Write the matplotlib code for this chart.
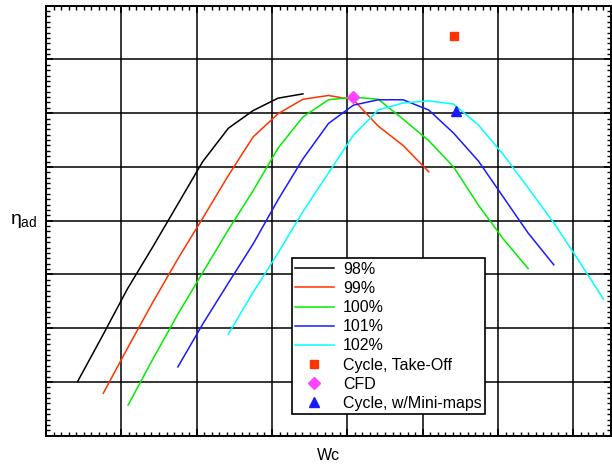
import matplotlib
matplotlib.use("Agg")
import matplotlib.pyplot as plt
from matplotlib.ticker import MultipleLocator

plt.rcParams["font.family"] = ["Liberation Sans", "DejaVu Sans"]
plt.rcParams["mathtext.fontset"] = "custom"
plt.rcParams["mathtext.rm"] = "Liberation Sans"
plt.rcParams["mathtext.it"] = "Liberation Sans"

# speed lines (corrected flow vs adiabatic efficiency), arbitrary units
x_98 = [0.42, 0.75, 1.08, 1.42, 1.75, 2.08, 2.42, 2.75, 3.08, 3.41]
y_98 = [1.01, 1.86, 2.73, 3.52, 4.31, 5.10, 5.72, 6.05, 6.28, 6.36]

x_99 = [0.76, 1.09, 1.42, 1.75, 2.09, 2.42, 2.75, 3.08, 3.41, 3.75,
        4.08, 4.41, 4.74, 5.08]
y_99 = [0.79, 1.65, 2.49, 3.29, 4.07, 4.84, 5.56, 5.99, 6.26, 6.33,
        6.25, 5.76, 5.40, 4.91]

x_100 = [1.09, 1.42, 1.75, 2.09, 2.42, 2.75, 3.08, 3.41, 3.75, 4.08,
         4.41, 4.74, 5.08, 5.41, 5.74, 6.07, 6.40]
y_100 = [0.57, 1.43, 2.26, 3.06, 3.83, 4.56, 5.35, 5.93, 6.25, 6.30,
         6.26, 5.89, 5.49, 5.00, 4.29, 3.66, 3.11]

x_101 = [1.75, 2.09, 2.42, 2.75, 3.08, 3.41, 3.75, 4.08, 4.41, 4.74,
         5.08, 5.41, 5.74, 6.07, 6.40, 6.74]
y_101 = [1.28, 2.10, 2.84, 3.57, 4.39, 5.15, 5.81, 6.15, 6.25, 6.25,
         6.06, 5.63, 5.11, 4.44, 3.77, 3.18]

x_102 = [2.42, 2.75, 3.08, 3.41, 3.75, 4.08, 4.41, 4.74, 5.08, 5.41,
         5.74, 6.07, 6.40, 6.74, 7.07, 7.40]
y_102 = [1.89, 2.67, 3.40, 4.17, 4.89, 5.59, 6.06, 6.19, 6.23, 6.17,
         5.78, 5.23, 4.61, 3.96, 3.26, 2.54]

speed_labels = ["98%", "99%", "100%", "101%", "102%"]
speed_colors = ["black", "#ff3300", "#00ee00", "#1a1aff", "#00ffff"]

# operating points
takeoff_x, takeoff_y = [5.41], [7.44]
cfd_x, cfd_y = [4.07], [6.30]
minimap_x, minimap_y = [5.44], [6.04]

fig = plt.figure(figsize=(6.12, 4.65), dpi=100)
ax = fig.add_axes([0.0752, 0.063, 0.9232, 0.9247])

series = [(x_98, y_98), (x_99, y_99), (x_100, y_100), (x_101, y_101), (x_102, y_102)]
for (xs, ys), lab, col in zip(series, speed_labels, speed_colors):
    ax.plot(xs, ys, color=col, lw=1.1, label=lab, zorder=3)

ax.plot(takeoff_x, takeoff_y, "s", color="#ff3300", ms=6, ls="none",
        label="Cycle, Take-Off", zorder=4)
ax.plot(cfd_x, cfd_y, "D", color="#ff44ff", ms=6, ls="none",
        label="CFD", zorder=4)
ax.plot(minimap_x, minimap_y, "^", color="#1a1aff", ms=7, ls="none",
        label="Cycle, w/Mini-maps", zorder=4)

ax.set_xlim(0, 7.5)
ax.set_ylim(0, 8)
ax.xaxis.set_major_locator(MultipleLocator(1))
ax.xaxis.set_minor_locator(MultipleLocator(0.1))
ax.yaxis.set_major_locator(MultipleLocator(1))
ax.yaxis.set_minor_locator(MultipleLocator(0.1))
ax.tick_params(which="both", direction="in", top=True, right=True,
               labelbottom=False, labelleft=False, color="black")
ax.tick_params(which="major", length=5, width=1.2)
ax.tick_params(which="minor", length=3.2, width=1.0)
ax.grid(True, which="major", color="black", lw=1.1, zorder=1)
for sp in ax.spines.values():
    sp.set_linewidth(1.4)

ax.set_xlabel("Wc", fontsize=11.5, labelpad=9)
ax.set_ylabel(r"$\eta_{\mathrm{ad}}$", fontsize=14, rotation=0,
              labelpad=16, va="center")

leg = ax.legend(loc="upper left", bbox_to_anchor=(0.435, 0.4126),
                borderaxespad=0, fontsize=11.5, frameon=True, fancybox=False,
                framealpha=1, edgecolor="black", labelspacing=0.26,
                handlelength=2.4, handletextpad=0.6, borderpad=0.22,
                numpoints=1)
leg.get_frame().set_linewidth(1.2)
leg.set_zorder(5)

fig.savefig("out.png", dpi=100)
